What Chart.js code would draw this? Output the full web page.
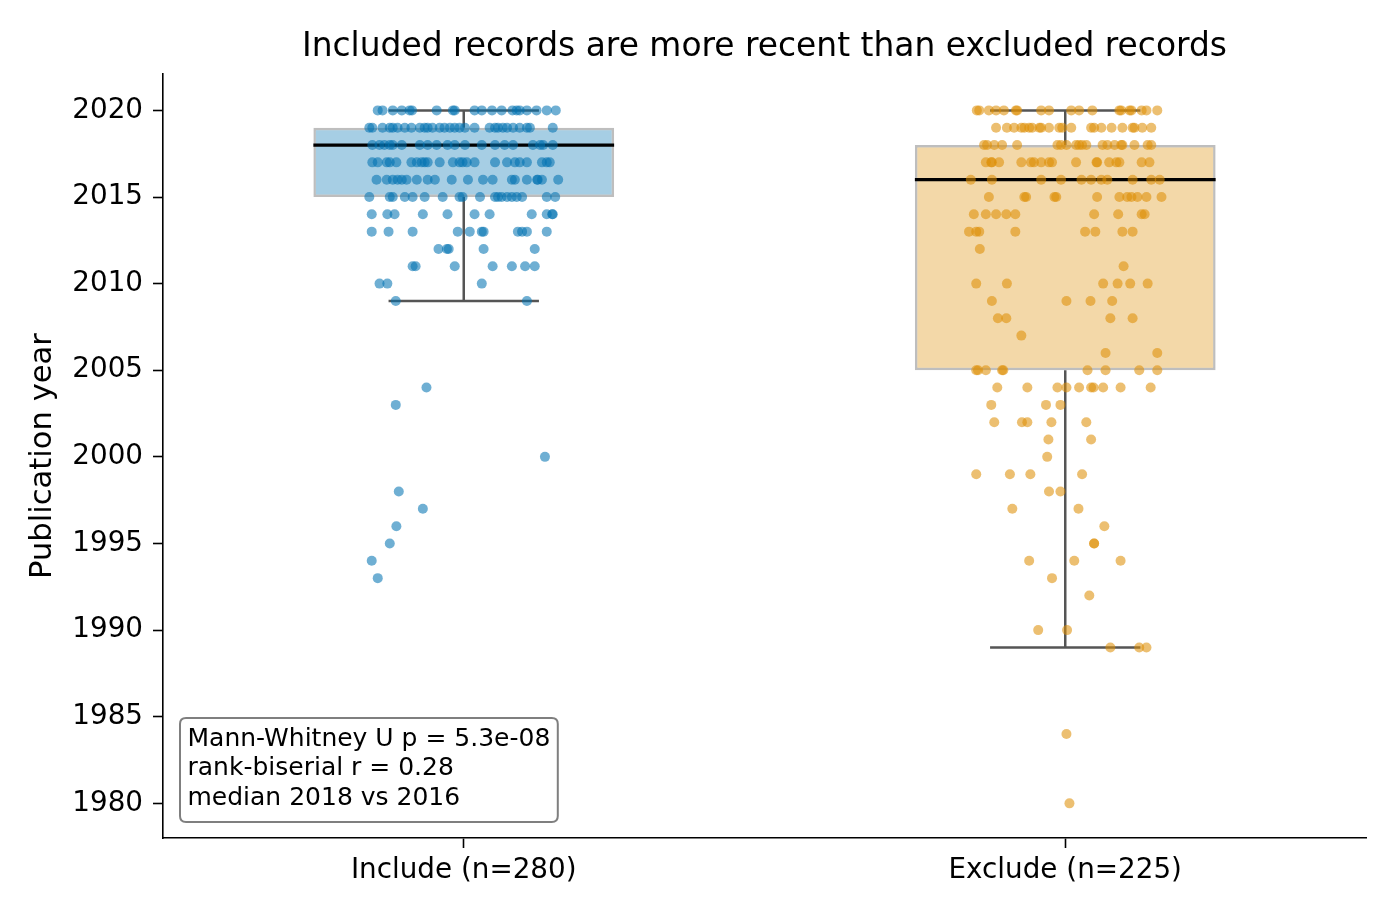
<!DOCTYPE html>
<html>
<head>
<meta charset="utf-8">
<script src="https://cdn.jsdelivr.net/npm/chart.js@4.4.1/dist/chart.umd.min.js"></script>
<style>
  body { margin: 0; background: #fff; }
  #wrap { width: 1400px; height: 919px; }
</style>
</head>
<body>
<div id="wrap"><canvas id="yearChart"></canvas></div>
<script>
// groups and box stats
var groupNames = ['Include (n=280)', 'Exclude (n=225)'];
var q1 = [2015, 2005];
var medians = [2018, 2016];
var q3 = [2019, 2018];
var whiskerLow = [2009, 1989];
var whiskerHigh = [2020, 2020];
var yTicks = [1980, 1985, 1990, 1995, 2000, 2005, 2010, 2015, 2020];
var chartTitle = 'Included records are more recent than excluded records';
var statsLines = ['Mann-Whitney U p = 5.3e-08', 'rank-biserial r = 0.28', 'median 2018 vs 2016'];

// strip points: [year, [horizontal jitter from group centre]]
var includeStrip = [
  [2020, [-0.143,-0.135,-0.118,-0.103,-0.090,-0.086,-0.045,-0.018,-0.015,0.018,0.030,0.047,0.063,0.081,0.088,0.093,0.105,0.121,0.138,0.153]],
  [2019, [-0.157,-0.152,-0.135,-0.123,-0.118,-0.110,-0.098,-0.087,-0.073,-0.065,-0.060,-0.052,-0.040,-0.032,-0.023,-0.015,-0.007,0.002,0.018,0.043,0.052,0.057,0.065,0.072,0.082,0.093,0.105,0.110,0.148]],
  [2018, [-0.152,-0.140,-0.132,-0.123,-0.118,-0.103,-0.073,-0.060,-0.045,-0.027,-0.015,0.002,0.030,0.052,0.068,0.082,0.115,0.127,0.132,0.148]],
  [2017, [-0.152,-0.143,-0.128,-0.123,-0.112,-0.087,-0.078,-0.070,-0.065,-0.060,-0.040,-0.018,-0.007,-0.002,0.005,0.018,0.052,0.072,0.085,0.093,0.105,0.130,0.138,0.143]],
  [2016, [-0.145,-0.128,-0.118,-0.110,-0.103,-0.095,-0.078,-0.060,-0.048,-0.020,0.007,0.032,0.048,0.080,0.085,0.105,0.122,0.123,0.130,0.157]],
  [2015, [-0.157,-0.123,-0.118,-0.098,-0.085,-0.065,-0.035,-0.007,-0.002,0.027,0.052,0.057,0.063,0.072,0.080,0.088,0.097,0.138,0.152]],
  [2014, [-0.153,-0.127,-0.115,-0.068,-0.027,0.018,0.043,0.113,0.138,0.147,0.148]],
  [2013, [-0.153,-0.125,-0.085,-0.010,0.010,0.030,0.033,0.090,0.097,0.105,0.138]],
  [2012, [-0.042,-0.028,-0.025,0.033,0.118]],
  [2011, [-0.085,-0.080,-0.015,0.048,0.080,0.102,0.118]],
  [2010, [-0.140,-0.127,0.030]],
  [2009, [-0.113,0.105]],
  [2004, [-0.062]],
  [2003, [-0.113]],
  [2000, [0.135]],
  [1998, [-0.108]],
  [1997, [-0.068]],
  [1996, [-0.112]],
  [1995, [-0.123]],
  [1994, [-0.153]],
  [1993, [-0.143]]
];
var excludeStrip = [
  [2020, [-0.147,-0.143,-0.127,-0.115,-0.102,-0.082,-0.080,-0.040,-0.027,0.010,0.023,0.045,0.090,0.093,0.107,0.110,0.127,0.135,0.153]],
  [2019, [-0.115,-0.097,-0.085,-0.073,-0.068,-0.060,-0.055,-0.043,-0.040,-0.027,-0.010,-0.005,0.010,0.043,0.048,0.060,0.077,0.095,0.112,0.115,0.128,0.143]],
  [2018, [-0.135,-0.130,-0.118,-0.105,-0.080,-0.013,-0.007,0.002,0.018,0.023,0.028,0.035,0.062,0.070,0.082,0.093,0.095,0.115,0.137,0.143]],
  [2017, [-0.132,-0.123,-0.122,-0.110,-0.073,-0.057,-0.052,-0.040,-0.027,-0.022,0.018,0.052,0.053,0.073,0.085,0.090,0.127,0.140]],
  [2016, [-0.157,-0.122,-0.040,-0.007,0.027,0.043,0.060,0.070,0.112,0.143,0.157]],
  [2015, [-0.127,-0.068,-0.065,-0.018,-0.015,0.053,0.090,0.103,0.110,0.120,0.135,0.160]],
  [2014, [-0.152,-0.132,-0.115,-0.098,-0.083,0.048,0.088,0.127,0.132]],
  [2013, [-0.160,-0.148,-0.143,-0.083,0.033,0.050,0.095,0.112]],
  [2012, [-0.142]],
  [2011, [0.097]],
  [2010, [-0.148,-0.097,0.063,0.087,0.108,0.137]],
  [2009, [-0.122,0.002,0.042,0.078]],
  [2008, [-0.112,-0.098,0.075,0.112]],
  [2007, [-0.073]],
  [2006, [0.067,0.153]],
  [2005, [-0.148,-0.145,-0.132,-0.105,-0.103,0.037,0.067,0.123,0.153]],
  [2004, [-0.113,-0.063,-0.013,0.002,0.023,0.043,0.047,0.063,0.092,0.142]],
  [2003, [-0.123,-0.032,-0.008]],
  [2002, [-0.118,-0.072,-0.063,-0.023,0.035]],
  [2001, [-0.028,0.043]],
  [2000, [-0.030]],
  [1999, [-0.148,-0.092,-0.058,0.028]],
  [1998, [-0.027,-0.008]],
  [1997, [-0.088,0.022]],
  [1996, [0.065]],
  [1995, [0.048,0.048]],
  [1994, [-0.060,0.015,0.092]],
  [1993, [-0.022]],
  [1992, [0.040]],
  [1990, [-0.045,0.003]],
  [1989, [0.075,0.123,0.135]],
  [1984, [0.002]],
  [1980, [0.007]]
];

var pointColors = ['rgba(1,115,178,0.57)', 'rgba(222,143,5,0.57)'];
var boxColors = ['rgba(1,115,178,0.35)', 'rgba(222,143,5,0.35)'];
var FONT = '"DejaVu Sans", sans-serif';

function stripToPoints(strip, gi) {
  var pts = [];
  strip.forEach(function(row) {
    row[1].forEach(function(j) { pts.push({x: gi + j, y: row[0]}); });
  });
  return pts;
}

function segment(x0, y0, x1, y1, color, width, order) {
  return {
    type: 'line',
    data: [{x: x0, y: y0}, {x: x1, y: y1}],
    borderColor: color,
    borderWidth: width,
    pointRadius: 0,
    fill: false,
    order: order
  };
}

var datasets = [];

// boxes as floating bars
datasets.push({
  type: 'bar',
  data: groupNames.map(function(n, i) { return {x: i, y: [q1[i], q3[i]]}; }),
  backgroundColor: boxColors,
  borderColor: 'rgba(70,70,70,0.35)',
  borderWidth: 2.5,
  borderSkipped: false,
  barPercentage: 0.5,
  categoryPercentage: 1.0,
  order: 3
});

// whiskers, caps and medians
groupNames.forEach(function(n, i) {
  var wc = '#555555';
  datasets.push(segment(i, q3[i], i, whiskerHigh[i], wc, 2.5, 2));
  datasets.push(segment(i, q1[i], i, whiskerLow[i], wc, 2.5, 2));
  datasets.push(segment(i - 0.125, whiskerHigh[i], i + 0.125, whiskerHigh[i], wc, 2.5, 2));
  datasets.push(segment(i - 0.125, whiskerLow[i], i + 0.125, whiskerLow[i], wc, 2.5, 2));
  datasets.push(segment(i - 0.25, medians[i], i + 0.25, medians[i], '#000000', 3.2, 1));
});

// jittered points
[includeStrip, excludeStrip].forEach(function(strip, gi) {
  datasets.push({
    type: 'scatter',
    data: stripToPoints(strip, gi),
    backgroundColor: pointColors[gi],
    borderWidth: 0,
    pointRadius: 5,
    order: 0
  });
});

// title centred over the plot area (not the whole canvas)
var plotTitle = {
  id: 'plotTitle',
  afterDraw: function(chart) {
    var c = chart.ctx, area = chart.chartArea;
    c.save();
    c.font = '32.9px ' + FONT;
    c.fillStyle = '#000';
    c.textAlign = 'center';
    c.textBaseline = 'middle';
    c.fillText(chartTitle, (area.left + area.right) / 2, area.top - 27);
    c.restore();
  }
};

// stats text box in lower-left corner
var statsBox = {
  id: 'statsBox',
  afterDraw: function(chart) {
    var c = chart.ctx, area = chart.chartArea;
    var lh = 29.5, padX = 7.5, padTop = 6.5, padBottom = 9;
    c.save();
    c.font = '25px ' + FONT;
    var w = 0;
    statsLines.forEach(function(t) { w = Math.max(w, c.measureText(t).width); });
    var bw = w + padX * 2, bh = lh * statsLines.length + padTop + padBottom;
    var bx = area.left + 17, by = area.bottom - 16 - bh, r = 6;
    c.beginPath();
    c.moveTo(bx + r, by);
    c.lineTo(bx + bw - r, by);
    c.quadraticCurveTo(bx + bw, by, bx + bw, by + r);
    c.lineTo(bx + bw, by + bh - r);
    c.quadraticCurveTo(bx + bw, by + bh, bx + bw - r, by + bh);
    c.lineTo(bx + r, by + bh);
    c.quadraticCurveTo(bx, by + bh, bx, by + bh - r);
    c.lineTo(bx, by + r);
    c.quadraticCurveTo(bx, by, bx + r, by);
    c.closePath();
    c.fillStyle = 'rgba(255,255,255,0.9)';
    c.fill();
    c.strokeStyle = 'rgba(0,0,0,0.5)';
    c.lineWidth = 2;
    c.stroke();
    c.fillStyle = '#000';
    c.textBaseline = 'middle';
    c.textAlign = 'left';
    statsLines.forEach(function(t, i) {
      c.fillText(t, bx + padX, by + padTop + lh * (i + 0.5));
    });
    c.restore();
  }
};

var ctx = document.getElementById('yearChart');
var myChart = new Chart(ctx, {
  type: 'scatter',
  data: { datasets: datasets },
  plugins: [plotTitle, statsBox],
  options: {
    responsive: true,
    maintainAspectRatio: false,
    animation: false,
    events: [],
    layout: { padding: { left: 0, right: 34, top: 74, bottom: 0 } },
    plugins: {
      legend: { display: false },
      tooltip: { enabled: false },
      title: { display: false }
    },
    scales: {
      x: {
        type: 'linear',
        min: -0.5,
        max: 1.5,
        offset: false,
        afterBuildTicks: function(scale) {
          scale.ticks = groupNames.map(function(n, i) { return {value: i}; });
        },
        afterFit: function(scale) { scale.height = 81; },
        ticks: {
          callback: function(v) { return groupNames[v]; },
          color: '#000',
          font: { family: FONT, size: 27.8 },
          padding: 6,
          maxRotation: 0,
          autoSkip: false
        },
        grid: { drawOnChartArea: false, offset: false, tickLength: 10, tickWidth: 1.6, color: '#000' },
        border: { color: '#000', width: 1.6 }
      },
      y: {
        min: 1978,
        max: 2022.1,
        afterBuildTicks: function(scale) {
          scale.ticks = yTicks.map(function(v) { return {value: v}; });
        },
        afterFit: function(scale) { scale.width = 163; },
        ticks: {
          callback: function(v) { return String(v); },
          color: '#000',
          font: { family: FONT, size: 27.8 },
          padding: 10
        },
        grid: { drawOnChartArea: false, tickLength: 10, tickWidth: 1.6, color: '#000' },
        border: { color: '#000', width: 1.6 },
        title: {
          display: true,
          text: 'Publication year',
          color: '#000',
          font: { family: FONT, size: 30.6 },
          padding: { top: 25, bottom: 0 }
        }
      }
    }
  }
});
</script>
</body>
</html>
